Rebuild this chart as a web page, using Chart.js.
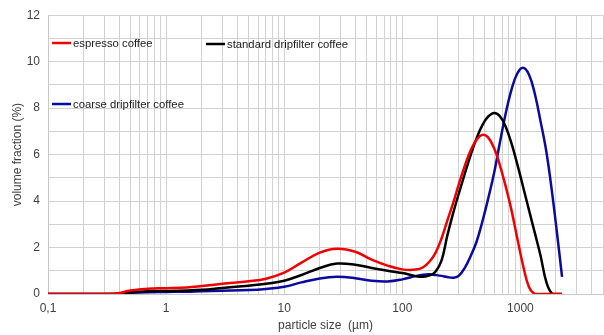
<!DOCTYPE html>
<html>
<head>
<meta charset="utf-8">
<script src="https://cdn.jsdelivr.net/npm/chart.js@4.4.1/dist/chart.umd.min.js"></script>
<style>
    html, body { margin: 0; padding: 0; background: #fff; }
    #wrap { width: 604px; height: 335px; }
</style>
</head>
<body>
<div id="wrap"><canvas id="psdChart" width="604" height="335"></canvas></div>
<script>
// particle sizes (µm), shared by all three curves
const sizes = [0.1, 0.2, 0.3, 0.38, 0.5, 0.7, 1, 1.5, 2, 3, 5, 7, 10, 14, 20, 28, 40, 55, 75, 100, 130,
    150, 170, 190, 215, 240, 270, 300, 340, 380, 425, 475, 530, 600, 670, 750, 840, 940, 1050, 1180,
    1320, 1480, 1660, 1860, 2080, 2250];

// volume fraction (%)
const espresso = [0, 0, 0, 0.02, 0.15, 0.23, 0.25, 0.28, 0.34, 0.44, 0.55, 0.66, 0.92, 1.35, 1.78, 1.95, 1.82, 1.48, 1.22, 1.06, 1.05,
    1.15, 1.4, 1.75, 2.4, 3.15, 3.93, 4.71, 5.56, 6.2, 6.64, 6.85, 6.75, 6.26, 5.54, 4.63, 3.6, 2.4, 1.25, 0.3,
    0, 0, 0, 0, 0, 0];
const standard = [0, 0, 0, 0.01, 0.08, 0.12, 0.13, 0.15, 0.18, 0.26, 0.36, 0.44, 0.57, 0.82, 1.12, 1.31, 1.26, 1.12, 1.0, 0.9, 0.77,
    0.74, 0.8, 0.95, 1.45, 2.5, 3.5, 4.31, 5.22, 6.0, 6.7, 7.26, 7.62, 7.79, 7.65, 7.2, 6.48, 5.59, 4.64, 3.62,
    2.65, 1.65, 0.5, 0, 0, 0];
const coarse = [0, 0, 0, 0.01, 0.05, 0.08, 0.09, 0.1, 0.12, 0.14, 0.17, 0.22, 0.31, 0.5, 0.67, 0.74, 0.68, 0.57, 0.54, 0.63, 0.77,
    0.83, 0.85, 0.82, 0.78, 0.73, 0.7, 0.78, 1.15, 1.65, 2.25, 3.1, 4.05, 5.24, 6.52, 7.77, 8.8, 9.49, 9.74, 9.45,
    8.64, 7.43, 6.1, 4.3, 2.25, 0.74];

const seriesNames = ['espresso coffee', 'standard dripfilter coffee', 'coarse dripfilter coffee'];
const seriesColors = ['#f00000', '#000000', '#0a0a9c'];

const xMin = 0.1, xMax = 5000;
const yMax = 12;

function toPoints(values) {
    return sizes.map((s, i) => ({ x: s, y: values[i] }));
}

// legend is drawn inside the plot, like the original
const insideLegend = {
    id: 'insideLegend',
    afterDatasetsDraw(chart) {
        const ctx = chart.ctx;
        const spots = [[52, 43], [206, 44], [52, 104]];
        ctx.save();
        ctx.font = '11.3px "Liberation Sans", Arial, sans-serif';
        ctx.textBaseline = 'middle';
        chart.data.datasets.forEach((ds, i) => {
            const [x, y] = spots[i];
            ctx.strokeStyle = ds.borderColor;
            ctx.lineWidth = 2.5;
            ctx.beginPath();
            ctx.moveTo(x, y);
            ctx.lineTo(x + 19, y);
            ctx.stroke();
            ctx.fillStyle = '#1a1a1a';
            ctx.fillText(ds.label, x + 21, y + 0.5);
        });
        ctx.restore();
    }
};

const ctx = document.getElementById('psdChart').getContext('2d');
new Chart(ctx, {
    type: 'line',
    data: {
        datasets: [
            { label: seriesNames[0], data: toPoints(espresso), borderColor: seriesColors[0] },
            { label: seriesNames[1], data: toPoints(standard), borderColor: seriesColors[1] },
            { label: seriesNames[2], data: toPoints(coarse), borderColor: seriesColors[2] }
        ].map(d => Object.assign(d, { borderWidth: 2.5, pointRadius: 0, fill: false, tension: 0.4 }))
    },
    options: {
        responsive: false,
        animation: false,
        layout: { padding: { top: 13, right: 1, left: 0, bottom: 0 } },
        plugins: { legend: { display: false }, tooltip: { enabled: false } },
        scales: {
            x: {
                type: 'logarithmic',
                min: xMin,
                max: xMax,
                afterBuildTicks: scale => {
                    const ticks = [];
                    for (let d = xMin; d < xMax; d *= 10) {
                        for (let m = 1; m <= 9; m++) {
                            const v = +(m * d).toPrecision(3);
                            if (v <= xMax) ticks.push({ value: v });
                        }
                    }
                    scale.ticks = ticks;
                },
                afterFit: scale => {
                    scale.height = 41;
                    scale.paddingLeft = 0;
                    scale.paddingRight = 0;
                },
                ticks: {
                    autoSkip: false,
                    maxRotation: 0,
                    padding: 7,
                    color: '#404040',
                    font: { family: '"Liberation Sans", Arial, sans-serif', size: 12 },
                    callback: v => {
                        const l = Math.log10(v);
                        if (Math.abs(l - Math.round(l)) > 1e-6 || v >= xMax) return '';
                        return String(v).replace('.', ',');
                    }
                },
                grid: { color: '#d2d2d2', lineWidth: 1, drawTicks: false },
                border: { color: '#c8c8c8' },
                title: {
                    display: true,
                    text: 'particle size  (µm)',
                    color: '#404040',
                    font: { family: '"Liberation Sans", Arial, sans-serif', size: 12 },
                    padding: { top: 0, bottom: 2 }
                }
            },
            y: {
                min: 0,
                max: yMax,
                afterFit: scale => { scale.width = 48; },
                ticks: {
                    stepSize: 1,
                    padding: 8,
                    color: '#404040',
                    font: { family: '"Liberation Sans", Arial, sans-serif', size: 12 },
                    callback: v => (v % 2 === 0 ? v : '')
                },
                grid: { color: '#d2d2d2', lineWidth: 1, drawTicks: false },
                border: { color: '#c8c8c8' },
                title: {
                    display: true,
                    text: 'volume fraction (%)',
                    color: '#404040',
                    font: { family: '"Liberation Sans", Arial, sans-serif', size: 12 },
                    padding: { top: 10, bottom: 0 }
                }
            }
        }
    },
    plugins: [insideLegend]
});
</script>
</body>
</html>
